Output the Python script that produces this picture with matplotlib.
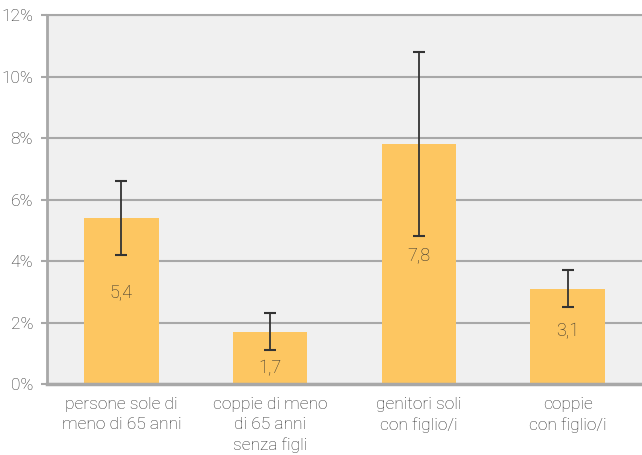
import matplotlib.pyplot as plt
from matplotlib.ticker import FuncFormatter

categories = [
    "persone sole di\nmeno di 65 anni",
    "coppie di meno\ndi 65 anni\nsenza figli",
    "genitori soli\ncon figlio/i",
    "coppie\ncon figlio/i",
]
values = [5.4, 1.7, 7.8, 3.1]
err_low = [4.2, 1.1, 4.8, 2.5]
err_high = [6.6, 2.3, 10.8, 3.7]
yticks = [0, 2, 4, 6, 8, 10, 12]

plt.rcParams["font.family"] = ["Roboto", "DejaVu Sans"]
plt.rcParams["font.weight"] = "light"

grid_color = "#a8a8a8"
text_color = "#2e2e2e"

fig = plt.figure(figsize=(6.42, 4.55), dpi=100)
ax = fig.add_axes([0.0732, 0.156, 0.9268, 0.811])
ax.set_facecolor("#f0f0f0")

x = list(range(len(values)))
yerr = [[v - lo for v, lo in zip(values, err_low)],
        [hi - v for v, hi in zip(values, err_high)]]

ax.bar(x, values, width=0.5, color="#fdc661", zorder=2)
ax.errorbar(x, values, yerr=yerr, fmt="none", ecolor="#333333",
            elinewidth=1.3, capsize=4.5, capthick=1.5, zorder=3)

for xi, v, lo in zip(x, values, err_low):
    ly = min(v * 0.55, lo - 0.6)
    ax.text(xi, ly, f"{v:.1f}".replace(".", ","), ha="center", va="center",
            fontsize=13, color=text_color, zorder=4)

ax.set_xlim(-0.5, 3.5)
ax.set_ylim(0, 12)
ax.set_yticks(yticks)
ax.yaxis.set_major_formatter(FuncFormatter(lambda v, p: f"{v:.0f}%"))
ax.yaxis.grid(True, color=grid_color, linewidth=1.5, zorder=1)
ax.set_axisbelow(True)

ax.set_xticks(x)
ax.set_xticklabels(categories, fontsize=12.5, color=text_color, linespacing=1.42)
ax.tick_params(axis="x", length=0, pad=9)
ax.tick_params(axis="y", length=4, width=1.5, color=grid_color,
               labelsize=12.5, labelcolor=text_color, pad=6)

ax.spines["right"].set_visible(False)
ax.spines["top"].set_color(grid_color)
ax.spines["top"].set_linewidth(1.5)
ax.spines["left"].set_color(grid_color)
ax.spines["left"].set_linewidth(2)
ax.spines["bottom"].set_color(grid_color)
ax.spines["bottom"].set_linewidth(2.5)

fig.savefig("out.png", dpi=100)
